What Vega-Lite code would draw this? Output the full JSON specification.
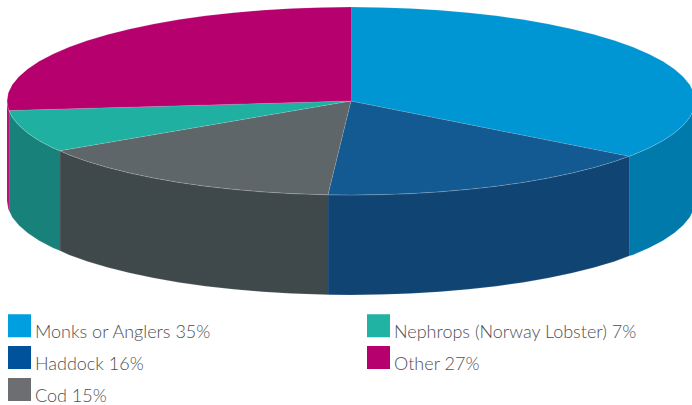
{"$schema":"https://vega.github.io/schema/vega-lite/v6.json","width":692,"height":405,"padding":0,"autosize":{"type":"fit","contains":"padding"},"background":"white","view":{"stroke":null},
"layer":[
{"data":{"values":[
{"part":"Other side","p":1,"x":9,"y":110.5},{"part":"Other side","p":2,"x":8.3,"y":109.2},{"part":"Other side","p":3,"x":7,"y":101},{"part":"Other side","p":4,"x":7,"y":201},{"part":"Other side","p":5,"x":8.3,"y":209.2},{"part":"Other side","p":6,"x":9,"y":210.5},
{"part":"Monks side","p":1,"x":695,"y":101},{"part":"Monks side","p":2,"x":693.7,"y":109.2},{"part":"Monks side","p":3,"x":689.8,"y":117.3},{"part":"Monks side","p":4,"x":683.2,"y":125.3},{"part":"Monks side","p":5,"x":674.3,"y":133.1},{"part":"Monks side","p":6,"x":662.8,"y":140.7},{"part":"Monks side","p":7,"x":648.9,"y":148},{"part":"Monks side","p":8,"x":632.8,"y":154.9},{"part":"Monks side","p":9,"x":629,"y":156.3},{"part":"Monks side","p":10,"x":629,"y":256},{"part":"Monks side","p":11,"x":632.8,"y":254.9},{"part":"Monks side","p":12,"x":648.9,"y":248},{"part":"Monks side","p":13,"x":662.8,"y":240.7},{"part":"Monks side","p":14,"x":674.3,"y":233.1},{"part":"Monks side","p":15,"x":683.2,"y":225.3},{"part":"Monks side","p":16,"x":689.8,"y":217.3},{"part":"Monks side","p":17,"x":693.7,"y":209.2},{"part":"Monks side","p":18,"x":695,"y":201},
{"part":"Haddock side","p":1,"x":629,"y":156.3},{"part":"Haddock side","p":2,"x":614.5,"y":161.4},{"part":"Haddock side","p":3,"x":594.2,"y":167.5},{"part":"Haddock side","p":4,"x":572.1,"y":173},{"part":"Haddock side","p":5,"x":548.3,"y":178},{"part":"Haddock side","p":6,"x":523,"y":182.4},{"part":"Haddock side","p":7,"x":496.4,"y":186.2},{"part":"Haddock side","p":8,"x":468.7,"y":189.3},{"part":"Haddock side","p":9,"x":440,"y":191.8},{"part":"Haddock side","p":10,"x":410.7,"y":193.6},{"part":"Haddock side","p":11,"x":381,"y":194.6},{"part":"Haddock side","p":12,"x":351,"y":195},{"part":"Haddock side","p":13,"x":328,"y":194.8},{"part":"Haddock side","p":14,"x":328,"y":294.8},{"part":"Haddock side","p":15,"x":351,"y":295},{"part":"Haddock side","p":16,"x":381,"y":294.6},{"part":"Haddock side","p":17,"x":410.7,"y":293.6},{"part":"Haddock side","p":18,"x":440,"y":291.8},{"part":"Haddock side","p":19,"x":468.7,"y":289.3},{"part":"Haddock side","p":20,"x":496.4,"y":286.2},{"part":"Haddock side","p":21,"x":523,"y":282.4},{"part":"Haddock side","p":22,"x":548.3,"y":278},{"part":"Haddock side","p":23,"x":572.1,"y":273},{"part":"Haddock side","p":24,"x":594.2,"y":267.5},{"part":"Haddock side","p":25,"x":614.5,"y":261.4},{"part":"Haddock side","p":26,"x":629,"y":256},
{"part":"Cod side","p":1,"x":328,"y":194.8},{"part":"Cod side","p":2,"x":321,"y":194.6},{"part":"Cod side","p":3,"x":291.3,"y":193.6},{"part":"Cod side","p":4,"x":262,"y":191.8},{"part":"Cod side","p":5,"x":233.3,"y":189.3},{"part":"Cod side","p":6,"x":205.6,"y":186.2},{"part":"Cod side","p":7,"x":179,"y":182.4},{"part":"Cod side","p":8,"x":153.7,"y":178},{"part":"Cod side","p":9,"x":129.9,"y":173},{"part":"Cod side","p":10,"x":107.8,"y":167.5},{"part":"Cod side","p":11,"x":87.5,"y":161.4},{"part":"Cod side","p":12,"x":69.2,"y":154.9},{"part":"Cod side","p":13,"x":60,"y":150.8},{"part":"Cod side","p":14,"x":60,"y":250.8},{"part":"Cod side","p":15,"x":69.2,"y":254.9},{"part":"Cod side","p":16,"x":87.5,"y":261.4},{"part":"Cod side","p":17,"x":107.8,"y":267.5},{"part":"Cod side","p":18,"x":129.9,"y":273},{"part":"Cod side","p":19,"x":153.7,"y":278},{"part":"Cod side","p":20,"x":179,"y":282.4},{"part":"Cod side","p":21,"x":205.6,"y":286.2},{"part":"Cod side","p":22,"x":233.3,"y":289.3},{"part":"Cod side","p":23,"x":262,"y":291.8},{"part":"Cod side","p":24,"x":291.3,"y":293.6},{"part":"Cod side","p":25,"x":321,"y":294.6},{"part":"Cod side","p":26,"x":328,"y":294.8},
{"part":"Nephrops side","p":1,"x":60,"y":150.8},{"part":"Nephrops side","p":2,"x":53.1,"y":148},{"part":"Nephrops side","p":3,"x":39.2,"y":140.7},{"part":"Nephrops side","p":4,"x":27.7,"y":133.1},{"part":"Nephrops side","p":5,"x":18.8,"y":125.3},{"part":"Nephrops side","p":6,"x":12.2,"y":117.3},{"part":"Nephrops side","p":7,"x":9,"y":110.5},{"part":"Nephrops side","p":8,"x":9,"y":210.5},{"part":"Nephrops side","p":9,"x":12.2,"y":217.3},{"part":"Nephrops side","p":10,"x":18.8,"y":225.3},{"part":"Nephrops side","p":11,"x":27.7,"y":233.1},{"part":"Nephrops side","p":12,"x":39.2,"y":240.7},{"part":"Nephrops side","p":13,"x":53.1,"y":248},{"part":"Nephrops side","p":14,"x":60,"y":250.8},
{"part":"Monks top","p":1,"x":351,"y":101},{"part":"Monks top","p":2,"x":351,"y":7},{"part":"Monks top","p":3,"x":381,"y":7.4},{"part":"Monks top","p":4,"x":410.7,"y":8.4},{"part":"Monks top","p":5,"x":440,"y":10.2},{"part":"Monks top","p":6,"x":468.7,"y":12.7},{"part":"Monks top","p":7,"x":496.4,"y":15.8},{"part":"Monks top","p":8,"x":523,"y":19.6},{"part":"Monks top","p":9,"x":548.3,"y":24},{"part":"Monks top","p":10,"x":572.1,"y":29},{"part":"Monks top","p":11,"x":594.2,"y":34.5},{"part":"Monks top","p":12,"x":614.5,"y":40.6},{"part":"Monks top","p":13,"x":632.8,"y":47.1},{"part":"Monks top","p":14,"x":648.9,"y":54},{"part":"Monks top","p":15,"x":662.8,"y":61.3},{"part":"Monks top","p":16,"x":674.3,"y":68.9},{"part":"Monks top","p":17,"x":683.2,"y":76.7},{"part":"Monks top","p":18,"x":689.8,"y":84.7},{"part":"Monks top","p":19,"x":693.7,"y":92.8},{"part":"Monks top","p":20,"x":695,"y":101},{"part":"Monks top","p":21,"x":693.7,"y":109.2},{"part":"Monks top","p":22,"x":689.8,"y":117.3},{"part":"Monks top","p":23,"x":683.2,"y":125.3},{"part":"Monks top","p":24,"x":674.3,"y":133.1},{"part":"Monks top","p":25,"x":662.8,"y":140.7},{"part":"Monks top","p":26,"x":648.9,"y":148},{"part":"Monks top","p":27,"x":632.8,"y":154.9},{"part":"Monks top","p":28,"x":629,"y":156.3},
{"part":"Haddock top","p":1,"x":351,"y":101},{"part":"Haddock top","p":2,"x":629,"y":156.3},{"part":"Haddock top","p":3,"x":614.5,"y":161.4},{"part":"Haddock top","p":4,"x":594.2,"y":167.5},{"part":"Haddock top","p":5,"x":572.1,"y":173},{"part":"Haddock top","p":6,"x":548.3,"y":178},{"part":"Haddock top","p":7,"x":523,"y":182.4},{"part":"Haddock top","p":8,"x":496.4,"y":186.2},{"part":"Haddock top","p":9,"x":468.7,"y":189.3},{"part":"Haddock top","p":10,"x":440,"y":191.8},{"part":"Haddock top","p":11,"x":410.7,"y":193.6},{"part":"Haddock top","p":12,"x":381,"y":194.6},{"part":"Haddock top","p":13,"x":351,"y":195},{"part":"Haddock top","p":14,"x":328,"y":194.8},
{"part":"Cod top","p":1,"x":351,"y":101},{"part":"Cod top","p":2,"x":328,"y":194.8},{"part":"Cod top","p":3,"x":321,"y":194.6},{"part":"Cod top","p":4,"x":291.3,"y":193.6},{"part":"Cod top","p":5,"x":262,"y":191.8},{"part":"Cod top","p":6,"x":233.3,"y":189.3},{"part":"Cod top","p":7,"x":205.6,"y":186.2},{"part":"Cod top","p":8,"x":179,"y":182.4},{"part":"Cod top","p":9,"x":153.7,"y":178},{"part":"Cod top","p":10,"x":129.9,"y":173},{"part":"Cod top","p":11,"x":107.8,"y":167.5},{"part":"Cod top","p":12,"x":87.5,"y":161.4},{"part":"Cod top","p":13,"x":69.2,"y":154.9},{"part":"Cod top","p":14,"x":60,"y":150.8},
{"part":"Nephrops top","p":1,"x":351,"y":101},{"part":"Nephrops top","p":2,"x":60,"y":150.8},{"part":"Nephrops top","p":3,"x":53.1,"y":148},{"part":"Nephrops top","p":4,"x":39.2,"y":140.7},{"part":"Nephrops top","p":5,"x":27.7,"y":133.1},{"part":"Nephrops top","p":6,"x":18.8,"y":125.3},{"part":"Nephrops top","p":7,"x":12.2,"y":117.3},{"part":"Nephrops top","p":8,"x":9,"y":110.5},
{"part":"Other top","p":1,"x":351,"y":101},{"part":"Other top","p":2,"x":9,"y":110.5},{"part":"Other top","p":3,"x":8.3,"y":109.2},{"part":"Other top","p":4,"x":7,"y":101},{"part":"Other top","p":5,"x":8.3,"y":92.8},{"part":"Other top","p":6,"x":12.2,"y":84.7},{"part":"Other top","p":7,"x":18.8,"y":76.7},{"part":"Other top","p":8,"x":27.7,"y":68.9},{"part":"Other top","p":9,"x":39.2,"y":61.3},{"part":"Other top","p":10,"x":53.1,"y":54},{"part":"Other top","p":11,"x":69.2,"y":47.1},{"part":"Other top","p":12,"x":87.5,"y":40.6},{"part":"Other top","p":13,"x":107.8,"y":34.5},{"part":"Other top","p":14,"x":129.9,"y":29},{"part":"Other top","p":15,"x":153.7,"y":24},{"part":"Other top","p":16,"x":179,"y":19.6},{"part":"Other top","p":17,"x":205.6,"y":15.8},{"part":"Other top","p":18,"x":233.3,"y":12.7},{"part":"Other top","p":19,"x":262,"y":10.2},{"part":"Other top","p":20,"x":291.3,"y":8.4},{"part":"Other top","p":21,"x":321,"y":7.4},{"part":"Other top","p":22,"x":351,"y":7}
]},
"mark":{"type":"line","filled":true,"clip":true,"stroke":"#ffffff","strokeWidth":0.5,"strokeOpacity":0.3},
"encoding":{
"x":{"field":"x","type":"quantitative","scale":{"domain":[0,692],"nice":false,"zero":false},"axis":null},
"y":{"field":"y","type":"quantitative","scale":{"domain":[405,0],"nice":false,"zero":false},"axis":null},
"order":{"field":"p","type":"quantitative"},
"color":{"field":"part","type":"nominal","legend":null,"scale":{
"domain":["Other side","Monks side","Haddock side","Cod side","Nephrops side","Monks top","Haddock top","Cod top","Nephrops top","Other top"],
"range":["#b5006e","#007aab","#104472","#3f484b","#18827a","#0095d3","#135a92","#5f6669","#20b0a2","#b5006e"]}}
}},
{"data":{"values":[
{"species":"Monks or Anglers 35%","share":35},{"species":"Haddock 16%","share":16},{"species":"Cod 15%","share":15},{"species":"Nephrops (Norway Lobster) 7%","share":7},{"species":"Other 27%","share":27}
]},
"mark":{"type":"point","filled":true,"size":0,"opacity":0},
"encoding":{
"color":{"field":"species","type":"nominal","scale":{
"domain":["Monks or Anglers 35%","Haddock 16%","Cod 15%","Nephrops (Norway Lobster) 7%","Other 27%"],
"range":["#009fdf","#00529b","#6d6e71","#20b2a2","#b5006e"]},
"legend":{"title":null,"orient":"none","legendX":8,"legendY":314,"columns":2,"padding":0,"symbolType":"square","symbolSize":529,"symbolOpacity":1,"symbolStrokeWidth":0,"labelFont":"Lato","labelFontWeight":300,"labelFontSize":18,"labelColor":"#4f5053","labelBaseline":"top","labelOffset":4,"labelLimit":400,"rowPadding":4,"columnPadding":155,"encoding":{"labels":{"dy":{"value":-2}}}}}
}}
],
"resolve":{"scale":{"color":"independent"}}
}
